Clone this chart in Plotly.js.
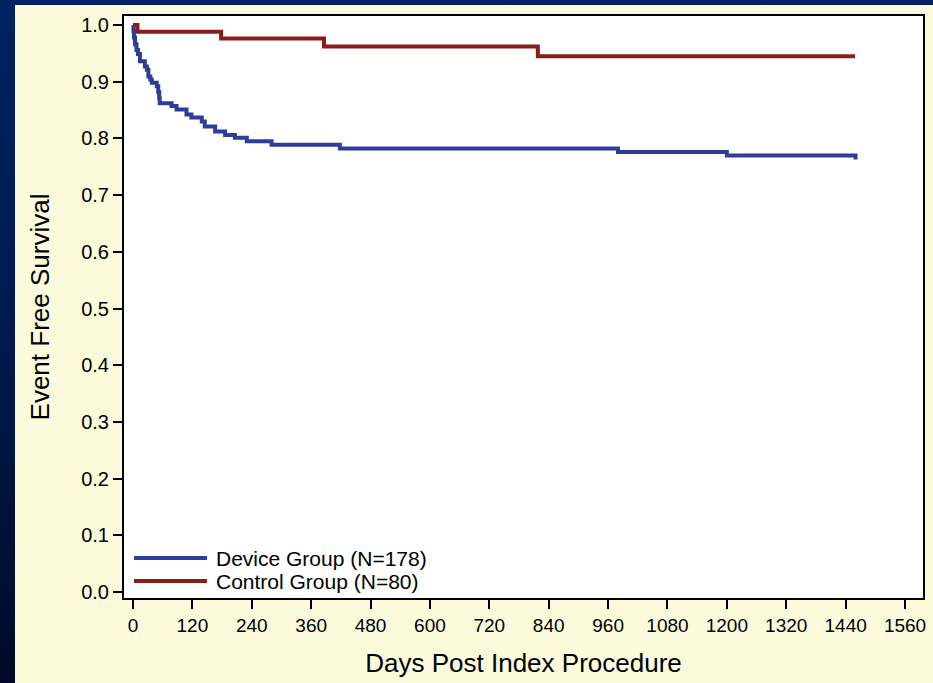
<!DOCTYPE html>
<html>
<head>
<meta charset="utf-8">
<script src="https://cdn.plot.ly/plotly-3.0.1.min.js"></script>
<style>
  html, body { margin: 0; padding: 0; width: 933px; height: 683px; overflow: hidden;
    background: linear-gradient(to bottom, #002262 0%, #001a4e 50%, #000a26 100%); }
  #chart { position: absolute; left: 15px; top: 5px; width: 918px; height: 678px; }
</style>
</head>
<body>
<div id="chart"></div>
<script>
// Device group (N=178): event days and survival after each step
const deviceDays = [0, 1, 2, 4, 7, 10, 14, 24, 28, 31, 35, 38, 48, 51, 53, 54, 78, 88, 108, 118, 139, 145, 166, 186, 206, 230, 280, 418, 980, 1200, 1460];
const deviceSurv = [1.0, 0.989, 0.978, 0.966, 0.956, 0.949, 0.936, 0.927, 0.921, 0.909, 0.904, 0.898, 0.892, 0.882, 0.871, 0.862, 0.857, 0.851, 0.842, 0.837, 0.830, 0.821, 0.812, 0.806, 0.801, 0.795, 0.789, 0.782, 0.776, 0.770, 0.763];
// Control group (N=80)
const controlDays = [0, 9, 178, 386, 818, 1459];
const controlSurv = [1.0, 0.988, 0.976, 0.962, 0.945, 0.945];

const seriesNames = ["Device Group (N=178)", "Control Group (N=80)"];
const seriesColors = ["#2f3d9a", "#8b1c1c"];

const xTicks = [0, 120, 240, 360, 480, 600, 720, 840, 960, 1080, 1200, 1320, 1440, 1560];
const yTicks = [0.0, 0.1, 0.2, 0.3, 0.4, 0.5, 0.6, 0.7, 0.8, 0.9, 1.0];

const FONT = "Liberation Sans, Arial, Helvetica, sans-serif";

const traces = [
  { x: deviceDays, y: deviceSurv, mode: "lines", line: { shape: "hv", color: seriesColors[0], width: 4 }, name: seriesNames[0], showlegend: false, hoverinfo: "x+y" },
  { x: controlDays, y: controlSurv, mode: "lines", line: { shape: "hv", color: seriesColors[1], width: 4 }, name: seriesNames[1], showlegend: false, hoverinfo: "x+y" }
];

// manual legend (long line samples like the original)
const legY = [0.0687, 0.0292];
const shapes = seriesNames.map((n, i) => ({
  type: "line", xref: "paper", yref: "paper",
  x0: 0.0125, x1: 0.1039, y0: legY[i], y1: legY[i],
  line: { color: seriesColors[i], width: 4 }
}));
const annotations = seriesNames.map((n, i) => ({
  text: n, xref: "paper", yref: "paper", x: 0.1130, y: legY[i],
  xanchor: "left", yanchor: "middle", showarrow: false,
  font: { family: FONT, size: 21, color: "#000" }
}));

const layout = {
  width: 918, height: 678,
  margin: { l: 109, r: 10, t: 11, b: 85 },
  paper_bgcolor: "#fbfbdc",
  plot_bgcolor: "#ffffff",
  font: { family: FONT, color: "#000" },
  xaxis: {
    range: [-18.2, 1596.3], tickvals: xTicks, ticktext: xTicks.map(String),
    ticks: "outside", ticklen: 9, tickwidth: 2, tickcolor: "#000",
    showline: true, linecolor: "#000", linewidth: 2, mirror: true,
    showgrid: false, zeroline: false,
    tickfont: { family: FONT, size: 19, color: "#000" },
    title: { text: "Days Post Index Procedure", font: { family: FONT, size: 26, color: "#000" }, standoff: 19 }
  },
  yaxis: {
    range: [-0.0106, 1.0159], tickvals: yTicks, ticktext: yTicks.map(v => v.toFixed(1)),
    ticks: "outside", ticklen: 9, tickwidth: 2, tickcolor: "#000",
    showline: true, linecolor: "#000", linewidth: 2, mirror: true,
    showgrid: false, zeroline: false,
    tickfont: { family: FONT, size: 20, color: "#000" },
    title: { text: "Event Free Survival", font: { family: FONT, size: 26, color: "#000" }, standoff: 24 }
  },
  shapes: shapes,
  annotations: annotations,
  showlegend: false
};

Plotly.newPlot("chart", traces, layout, { displayModeBar: false, staticPlot: true });
</script>
</body>
</html>
